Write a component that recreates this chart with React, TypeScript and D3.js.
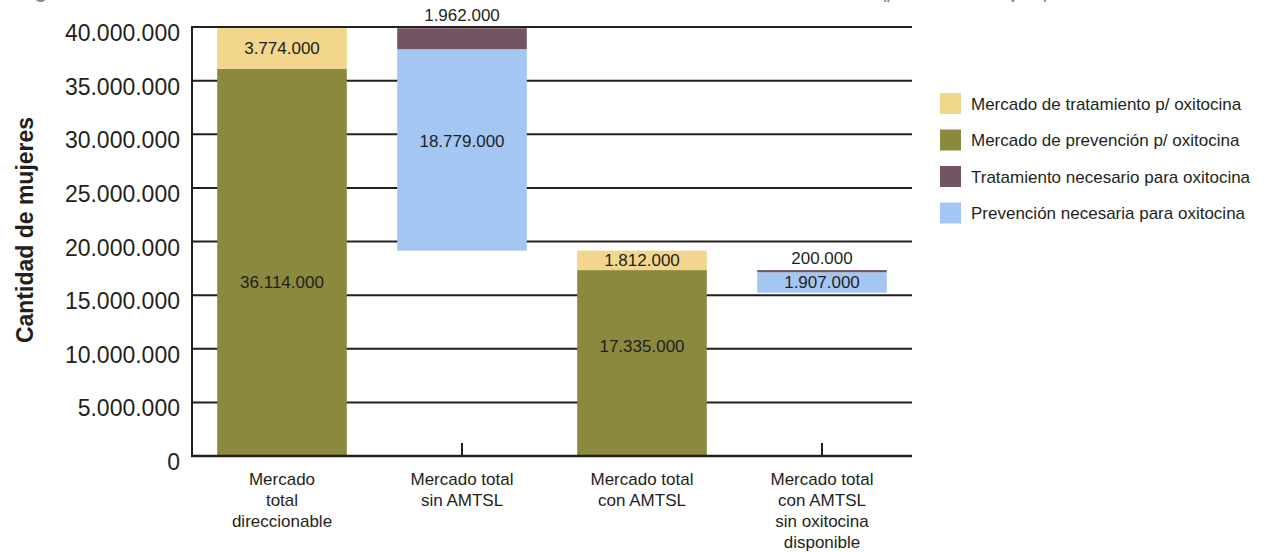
import React from "react";
import * as d3 from "d3";

const categories = [
  ["Mercado", "total", "direccionable"],
  ["Mercado total", "sin AMTSL"],
  ["Mercado total", "con AMTSL"],
  ["Mercado total", "con AMTSL", "sin oxitocina", "disponible"],
];
const seriesNames = [
  "Mercado de tratamiento p/ oxitocina",
  "Mercado de prevención p/ oxitocina",
  "Tratamiento necesario para oxitocina",
  "Prevención necesaria para oxitocina",
];
const seriesColors = ["#F1D68B", "#8A893D", "#735463", "#A3C6F3"];
// floating base of each bar (waterfall)
const baseValues = [0, 19147000, 0, 15228000];
const prevMercado = [36114000, 0, 17335000, 0];
const tratMercado = [3774000, 0, 1812000, 0];
const prevNecesaria = [0, 18779000, 0, 1907000];
const tratNecesario = [0, 1962000, 0, 200000];
// label anchors (value units) where the picture places the number labels
const labelAnchors = [
  { bar: 0, value: 38001000, text: "3.774.000" },
  { bar: 0, value: 16220000, text: "36.114.000" },
  { bar: 1, value: 41120000, text: "1.962.000" },
  { bar: 1, value: 29370000, text: "18.779.000" },
  { bar: 2, value: 18241000, text: "1.812.000" },
  { bar: 2, value: 10260000, text: "17.335.000" },
  { bar: 3, value: 18460000, text: "200.000" },
  { bar: 3, value: 16181000, text: "1.907.000" },
];
const yTicks = [0, 5000000, 10000000, 15000000, 20000000, 25000000, 30000000, 35000000, 40000000];
const yTitle = "Cantidad de mujeres";

const fmt = (v: number) => d3.format(",")(v).replace(/,/g, ".");

export default function App() {
  const W = 1270, H = 552;
  const x = d3.scaleBand<number>().domain(d3.range(categories.length)).range([192, 912]).paddingInner(0.28).paddingOuter(0.14);
  const y = d3.scaleLinear().domain([0, 40000000]).range([456, 27]);
  const ink = "#231F20";

  // stack order per bar: olive, yellow (market) ; blue, maroon (need)
  const stackOrder = [
    { vals: prevMercado, color: seriesColors[1] },
    { vals: tratMercado, color: seriesColors[0] },
    { vals: prevNecesaria, color: seriesColors[3] },
    { vals: tratNecesario, color: seriesColors[2] },
  ];
  const rects: any[] = [];
  categories.forEach((_, i) => {
    let acc = baseValues[i];
    stackOrder.forEach((s, k) => {
      const v = s.vals[i];
      if (v > 0) {
        rects.push({ key: `${i}-${k}`, x: x(i)!, y0: y(acc), y1: y(acc + v), color: s.color });
        acc += v;
      }
    });
  });

  const font = "'Liberation Sans', Arial, Helvetica, sans-serif";

  return (
    <div style={{ position: "absolute", left: 0, top: 0 }}>
      <svg width={W} height={H} style={{ display: "block", fontFamily: font }}>
        <rect width={W} height={H} fill="#fff" />
        {/* partially visible title */}
        <text x={17} y={-2} fontSize={20} fontWeight="bold" fill="#8a8a8a">Figura 5. Tamaño del mercado de oxitocina</text>
        <text x={882} y={-2} fontSize={20} fontWeight="bold" fill="#8a8a8a" textLength={166} lengthAdjust="spacingAndGlyphs">(por cantidad de mujeres)</text>

        {/* gridlines */}
        {yTicks.filter((t) => t > 0).map((t) => (
          <line key={t} x1={192} x2={912} y1={y(t)} y2={y(t)} stroke={ink} strokeWidth={2} />
        ))}
        {/* category ticks */}
        {categories.map((_, i) => (
          <line key={"t" + i} x1={x(i)! + x.bandwidth() / 2} x2={x(i)! + x.bandwidth() / 2} y1={456} y2={443} stroke={ink} strokeWidth={2} />
        ))}
        {/* bars */}
        {rects.map((r) => (
          <rect key={r.key} x={r.x} y={r.y1} width={x.bandwidth()} height={r.y0 - r.y1} fill={r.color} />
        ))}
        {/* axes */}
        <line x1={192} x2={192} y1={26} y2={457} stroke={ink} strokeWidth={2} />
        <line x1={191} x2={912} y1={456} y2={456} stroke={ink} strokeWidth={2.5} />

        {/* y tick labels */}
        {yTicks.map((t) => (
          <text key={"l" + t} x={180} y={y(t) + 14} fontSize={23} textAnchor="end" fill={ink}>{fmt(t)}</text>
        ))}
        {/* y title */}
        <text transform={`translate(33,230) rotate(-90)`} fontSize={23} fontWeight="bold" textAnchor="middle" fill={ink}>{yTitle}</text>

        {/* value labels */}
        {labelAnchors.map((l, i) => (
          <text key={"v" + i} x={x(l.bar)! + x.bandwidth() / 2} y={y(l.value) + 6} fontSize={17} textAnchor="middle" fill={ink}>{l.text}</text>
        ))}

        {/* category labels */}
        {categories.map((lines, i) => (
          <text key={"c" + i} x={x(i)! + x.bandwidth() / 2} y={485} fontSize={17} textAnchor="middle" fill={ink}>
            {lines.map((ln, j) => (
              <tspan key={j} x={x(i)! + x.bandwidth() / 2} dy={j === 0 ? 0 : 21}>{ln}</tspan>
            ))}
          </text>
        ))}

        {/* legend */}
        {seriesNames.map((name, i) => (
          <g key={name} transform={`translate(940,${93 + i * 36.5})`}>
            <rect width={21} height={21} fill={seriesColors[i]} />
            <text x={31} y={16.5} fontSize={17} fill={ink}>{name}</text>
          </g>
        ))}
      </svg>
    </div>
  );
}
